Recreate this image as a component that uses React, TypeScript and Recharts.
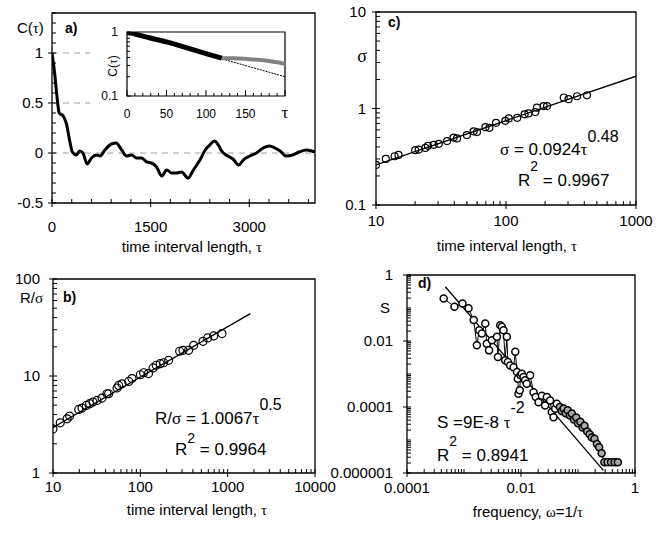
import React from 'react';
import { ScatterChart, Scatter, XAxis, YAxis, ReferenceLine, ReferenceArea } from 'recharts';

const SANS = '"Liberation Sans", Arial, Helvetica, sans-serif';
const SERIF = '"Liberation Serif", "Times New Roman", serif';

// a) autocorrelation C(tau)
const corrTau = [0, 40, 70, 110, 170, 220, 270, 310, 370, 420, 470, 535, 600, 680, 730, 805, 905, 975, 1060, 1135, 1210, 1285, 1365, 1440, 1515, 1590, 1670, 1745, 1820, 1895, 1970, 2070, 2150, 2250, 2330, 2400, 2470, 2530, 2580, 2650, 2750, 2840, 2910, 3010, 3110, 3210, 3310, 3390, 3470, 3560, 3660, 3760, 3870, 3950, 4000];
const corrValue = [1.0, 0.8, 0.6, 0.4, 0.37, 0.29, 0.12, 0.01, -0.02, 0.02, 0.0, -0.11, -0.05, -0.02, -0.03, 0.03, 0.09, 0.1, 0.03, -0.03, -0.02, -0.05, -0.05, -0.09, -0.1, -0.14, -0.23, -0.17, -0.2, -0.2, -0.19, -0.25, -0.17, -0.07, 0.03, 0.08, 0.12, 0.08, 0.02, -0.02, -0.06, -0.12, -0.07, -0.03, 0.0, 0.05, 0.07, 0.05, 0.02, -0.03, -0.02, 0.01, 0.03, 0.02, 0.01];

// a) inset, log C(tau) for short lags
const insetBlackTau = [0, 25, 50, 75, 100, 120];
const insetBlackC = [1.0, 0.83, 0.7, 0.57, 0.46, 0.39];
const insetGrayTau = [120, 135, 155, 175, 200];
const insetGrayC = [0.39, 0.39, 0.375, 0.36, 0.32];
const insetFitTau = [0, 200];
const insetFitC = [1.0, 0.2];

// c) sigma vs tau
const sigmaTau = [10, 11.9, 13.9, 14.9, 20, 21.3, 24, 25.1, 27.8, 30.4, 35.2, 39.5, 42, 50, 56.4, 59.8, 69.4, 74.5, 83.8, 98.8, 105, 122, 139, 149, 168, 173, 195, 207, 278, 303, 352, 420];
const sigmaValue = [0.26, 0.3, 0.32, 0.33, 0.37, 0.375, 0.39, 0.41, 0.42, 0.43, 0.46, 0.5, 0.49, 0.53, 0.58, 0.57, 0.64, 0.63, 0.71, 0.745, 0.79, 0.8, 0.87, 0.89, 0.92, 1.02, 1.06, 1.06, 1.3, 1.25, 1.34, 1.37];
const sigmaFitTau = [10, 1000];
const sigmaFitValue = [0.26, 2.16];

// b) R/sigma vs tau
const rsTau = [10, 12.1, 14.5, 15.5, 19.7, 21.5, 24.1, 26.3, 28.7, 31.9, 36.4, 41.5, 43.4, 54.1, 56.5, 61.7, 73.5, 80.3, 100, 109, 124, 140, 152, 169, 185, 211, 282, 308, 357, 408, 522, 591, 692, 861];
const rsValue = [2.85, 3.29, 3.62, 3.86, 4.52, 4.67, 4.97, 5.18, 5.38, 5.6, 5.92, 6.56, 6.56, 7.52, 8.0, 8.3, 8.8, 9.4, 10.3, 10.8, 10.6, 12.1, 12.9, 13.4, 13.7, 14.5, 18.0, 18.4, 18.4, 20.7, 22.8, 24.7, 25.9, 27.4];
const rsFitTau = [10, 1820];
const rsFitValue = [2.95, 44];

// d) power spectrum
const specFreq = [4.4e-4, 6.8e-4, 9.4e-4, 1.2e-3, 1.48e-3, 1.68e-3, 1.85e-3, 2.06e-3, 2.36e-3, 2.51e-3, 2.75e-3, 3.09e-3, 3.78e-3, 3.94e-3, 4.32e-3, 4.61e-3, 4.93e-3, 5.28e-3, 5.65e-3, 5.89e-3, 6.46e-3, 7.41e-3, 7.94e-3, 8.51e-3, 8.79e-3, 9.04e-3, 9.5e-3, 9.8e-3, 1.035e-2, 1.107e-2, 1.18e-2, 1.26e-2, 1.445e-2, 1.66e-2, 1.82e-2, 2.03e-2, 2.32e-2, 2.65e-2, 2.84e-2, 3.24e-2, 3.47e-2, 3.72e-2, 3.98e-2, 4.25e-2];
const specValue = [0.195, 0.109, 0.138, 0.098, 0.043, 0.0074, 0.021, 0.017, 0.034, 0.0083, 0.0052, 0.0105, 0.0135, 0.0033, 0.03, 0.027, 0.021, 0.0026, 0.0135, 0.0023, 0.0018, 0.0016, 0.0047, 0.00115, 0.00072, 0.00025, 0.00032, 0.00091, 0.00102, 0.00081, 0.00065, 0.00051, 0.00091, 0.00028, 0.0002, 0.00014, 0.00022, 0.000112, 0.0002, 0.000158, 7.1e-5, 4.9e-5, 8.9e-5, 0.000126];
const specHighFreq = [0.048, 0.052, 0.056, 0.061, 0.066, 0.072, 0.078, 0.085, 0.093, 0.1, 0.11, 0.12, 0.13, 0.145, 0.16, 0.175, 0.195, 0.215, 0.235, 0.26, 0.29, 0.33, 0.38, 0.44, 0.5];
const specHighValue = [1.0e-4, 7.5e-5, 9e-5, 6.5e-5, 8e-5, 5.5e-5, 6.3e-5, 4.2e-5, 4.8e-5, 3.2e-5, 3.6e-5, 2.4e-5, 2.7e-5, 1.8e-5, 1.5e-5, 1.2e-5, 1.1e-5, 7.6e-6, 6e-6, 4.0e-6, 2.1e-6, 2.1e-6, 2.1e-6, 2.1e-6, 2.1e-6];
const specFitFreq = [4.7e-4, 0.279];
const specFitValue = [0.44, 1.2e-6];

// tick labels
const aXMajor = [0, 1500, 3000];
const aXLabels = ['0', '1500', '3000'];
const aYMajor = [-0.5, 0, 0.5, 1];
const aYLabels = ['-0.5', '0', '0.5', '1'];
const insetXMajor = [0, 50, 100, 150, 200];
const insetXLabels = ['0', '50', '100', '150', 'τ'];
const insetYMajor = [0.1, 1];
const insetYLabels = ['0.1', '1'];
const cXMajor = [10, 100, 1000];
const cXLabels = ['10', '100', '1000'];
const cYMajor = [0.1, 1, 10];
const cYLabels = ['0.1', '1', '10'];
const bXMajor = [10, 100, 1000, 10000];
const bXLabels = ['10', '100', '1000', '10000'];
const bYMajor = [1, 10, 100];
const bYLabels = ['1', '10', '100'];
const dXMajor = [1e-4, 1e-2, 1];
const dXLabels = ['0.0001', '0.01', '1'];
const dYMajor = [1e-6, 1e-4, 1e-2, 1];
const dYLabels = ['0.000001', '0.0001', '0.01', '1'];

const pts = (xs: number[], ys: number[]) => xs.map((x, i) => ({ x, y: ys[i] }));

const steps = (from: number, to: number, by: number) => {
  const out: number[] = [];
  for (let i = 0; from + i * by <= to + 1e-9; i++) out.push(Math.round((from + i * by) * 1000) / 1000);
  return out;
};

const logTicks = (lo: number, hi: number) => {
  const out: number[] = [];
  for (let e = lo; e < hi; e++) {
    for (let k = 1; k < 10; k++) out.push(Number((k * Math.pow(10, e)).toPrecision(6)));
  }
  out.push(Number(Math.pow(10, hi).toPrecision(6)));
  return out;
};

const same = (a: number, b: number) => Math.abs(a - b) <= Math.max(Math.abs(a), Math.abs(b)) * 1e-6;

interface TickStyle {
  side: 'x' | 'y';
  majors: number[];
  labels: string[];
  minor: number;
  majorIn: number;
  majorOut: number;
  gap: number;
  size: number;
}

const makeTick = (s: TickStyle) => (props: any) => {
  const { x, y, payload } = props;
  const idx = s.majors.findIndex((m) => same(m, payload.value));
  const major = idx >= 0;
  const label = major ? s.labels[idx] : '';
  const greek = /[τσω]/.test(label);
  if (s.side === 'x') {
    return (
      <g>
        <line x1={x} x2={x} y1={y + (major ? s.majorOut : 0)} y2={y - (major ? s.majorIn : s.minor)} stroke="#000" strokeWidth={1} />
        {label && (
          <text x={x} y={y + s.gap} textAnchor="middle" fontSize={greek ? s.size + 5 : s.size} fontFamily={greek ? SERIF : SANS} fill="#000">
            {label}
          </text>
        )}
      </g>
    );
  }
  return (
    <g>
      <line x1={x - (major ? s.majorOut : 0)} x2={x + (major ? s.majorIn : s.minor)} y1={y} y2={y} stroke="#000" strokeWidth={1} />
      {label && (
        <text x={x - s.gap} y={y + s.size * 0.36} textAnchor="end" fontSize={s.size} fontFamily={SANS} fill="#000">
          {label}
        </text>
      )}
    </g>
  );
};

interface Box {
  left: number;
  top: number;
  width: number;
  height: number;
  x0: number;
  y0: number;
  x1: number;
  y1: number;
}

const A: Box = { left: 0, top: 0, width: 335, height: 265, x0: 52, y0: 13, x1: 315, y1: 203 };
const INSET: Box = { left: 90, top: 16, width: 222, height: 110, x0: 127, y0: 32, x1: 285, y1: 96 };
const C: Box = { left: 330, top: 0, width: 341, height: 265, x0: 376, y0: 12, x1: 636, y1: 205 };
const B: Box = { left: 0, top: 265, width: 345, height: 268, x0: 53, y0: 279, x1: 315, y1: 473 };
const D: Box = { left: 295, top: 265, width: 376, height: 268, x0: 407, y0: 275, x1: 635, y1: 473 };

const chartProps = (b: Box) => ({
  width: b.width,
  height: b.height,
  margin: { top: b.y0 - b.top, right: b.left + b.width - b.x1, bottom: 0, left: 0 },
});
const xH = (b: Box) => b.top + b.height - b.y1;
const yW = (b: Box) => b.x0 - b.left;

const axisBase = { tickLine: false, axisLine: false, tickSize: 0, tickMargin: 0, interval: 0 as const, allowDataOverflow: true };

const noDot = () => <g />;
const ring = (r: number, fill: string, sw: number) => (p: any) => (
  <circle cx={p.cx} cy={p.cy} r={r} fill={fill} stroke="#000" strokeWidth={sw} />
);

const place = (b: Box, bg?: string): React.CSSProperties => ({
  position: 'absolute',
  left: b.left,
  top: b.top,
  width: b.width,
  height: b.height,
  background: bg,
});

const PanelA = () => (
  <div style={place(A)}>
    <ScatterChart {...chartProps(A)}>
      <XAxis type="number" dataKey="x" domain={[0, 4000]} ticks={steps(0, 3900, 300)} height={xH(A)} {...axisBase}
        tick={makeTick({ side: 'x', majors: aXMajor, labels: aXLabels, minor: 4, majorIn: 4, majorOut: 4, gap: 29, size: 15 })} />
      <YAxis type="number" dataKey="y" domain={[-0.5, 1.4]} ticks={steps(-0.5, 1.4, 0.1)} width={yW(A)} {...axisBase}
        tick={makeTick({ side: 'y', majors: aYMajor, labels: aYLabels, minor: 4, majorIn: 4, majorOut: 4, gap: 9, size: 15 })} />
      <ReferenceLine y={1} stroke="#a0a0a0" strokeDasharray="6 5" />
      <ReferenceLine y={0.5} stroke="#a0a0a0" strokeDasharray="6 5" />
      <ReferenceLine y={0} stroke="#a0a0a0" strokeDasharray="6 5" />
      <Scatter data={pts(corrTau, corrValue)} shape={noDot} line={{ stroke: '#000', strokeWidth: 3 }} lineJointType="monotoneX" isAnimationActive={false} />
      <ReferenceArea x1={0} x2={4000} y1={-0.5} y2={1.4} fill="none" stroke="#000" strokeWidth={1.3} ifOverflow="visible" />
    </ScatterChart>
  </div>
);

const Inset = () => (
  <div style={place(INSET, '#fff')}>
    <ScatterChart {...chartProps(INSET)}>
      <XAxis type="number" dataKey="x" domain={[0, 200]} ticks={steps(0, 200, 10)} height={xH(INSET)} {...axisBase}
        tick={makeTick({ side: 'x', majors: insetXMajor, labels: insetXLabels, minor: 3, majorIn: 6, majorOut: 0, gap: 22, size: 12 })} />
      <YAxis type="number" dataKey="y" scale="log" domain={[0.1, 1]} ticks={logTicks(-1, 0)} width={yW(INSET)} {...axisBase}
        tick={makeTick({ side: 'y', majors: insetYMajor, labels: insetYLabels, minor: 3, majorIn: 4, majorOut: 0, gap: 9, size: 12 })} />
      <Scatter data={pts(insetFitTau, insetFitC)} shape={noDot} line={{ stroke: '#000', strokeWidth: 1, strokeDasharray: '2 1' }} isAnimationActive={false} />
      <Scatter data={pts(insetGrayTau, insetGrayC)} shape={noDot} line={{ stroke: '#808080', strokeWidth: 4 }} lineJointType="monotoneX" isAnimationActive={false} />
      <Scatter data={pts(insetBlackTau, insetBlackC)} shape={noDot} line={{ stroke: '#000', strokeWidth: 5 }} lineJointType="monotoneX" isAnimationActive={false} />
      <ReferenceArea x1={0} x2={200} y1={0.1} y2={1} fill="none" stroke="#000" strokeWidth={1.2} ifOverflow="visible" />
    </ScatterChart>
  </div>
);

const PanelC = () => (
  <div style={place(C)}>
    <ScatterChart {...chartProps(C)}>
      <XAxis type="number" dataKey="x" scale="log" domain={[10, 1000]} ticks={logTicks(1, 3)} height={xH(C)} {...axisBase}
        tick={makeTick({ side: 'x', majors: cXMajor, labels: cXLabels, minor: 4, majorIn: 4, majorOut: 4, gap: 21, size: 15 })} />
      <YAxis type="number" dataKey="y" scale="log" domain={[0.1, 10]} ticks={logTicks(-1, 1)} width={yW(C)} {...axisBase}
        tick={makeTick({ side: 'y', majors: cYMajor, labels: cYLabels, minor: 4, majorIn: 4, majorOut: 4, gap: 10, size: 15 })} />
      <Scatter data={pts(sigmaFitTau, sigmaFitValue)} shape={noDot} line={{ stroke: '#000', strokeWidth: 1.3 }} isAnimationActive={false} />
      <Scatter data={pts(sigmaTau, sigmaValue)} shape={ring(3.5, 'none', 1.2)} isAnimationActive={false} />
      <ReferenceArea x1={10} x2={1000} y1={0.1} y2={10} fill="none" stroke="#000" strokeWidth={1.3} ifOverflow="visible" />
    </ScatterChart>
  </div>
);

const PanelB = () => (
  <div style={place(B)}>
    <ScatterChart {...chartProps(B)}>
      <XAxis type="number" dataKey="x" scale="log" domain={[10, 10000]} ticks={logTicks(1, 4)} height={xH(B)} {...axisBase}
        tick={makeTick({ side: 'x', majors: bXMajor, labels: bXLabels, minor: 4, majorIn: 4, majorOut: 4, gap: 19, size: 15 })} />
      <YAxis type="number" dataKey="y" scale="log" domain={[1, 100]} ticks={logTicks(0, 2)} width={yW(B)} {...axisBase}
        tick={makeTick({ side: 'y', majors: bYMajor, labels: bYLabels, minor: 4, majorIn: 4, majorOut: 4, gap: 13, size: 15 })} />
      <Scatter data={pts(rsFitTau, rsFitValue)} shape={noDot} line={{ stroke: '#000', strokeWidth: 1.3 }} isAnimationActive={false} />
      <Scatter data={pts(rsTau, rsValue)} shape={ring(4, 'none', 1.2)} isAnimationActive={false} />
      <ReferenceArea x1={10} x2={10000} y1={1} y2={100} fill="none" stroke="#000" strokeWidth={1.3} ifOverflow="visible" />
    </ScatterChart>
  </div>
);

const PanelD = () => (
  <div style={place(D)}>
    <ScatterChart {...chartProps(D)}>
      <XAxis type="number" dataKey="x" scale="log" domain={[1e-4, 1]} ticks={logTicks(-4, 0)} height={xH(D)} {...axisBase}
        tick={makeTick({ side: 'x', majors: dXMajor, labels: dXLabels, minor: 4, majorIn: 4, majorOut: 4, gap: 20, size: 15 })} />
      <YAxis type="number" dataKey="y" scale="log" domain={[1e-6, 1]} ticks={logTicks(-6, 0)} width={yW(D)} {...axisBase}
        tick={makeTick({ side: 'y', majors: dYMajor, labels: dYLabels, minor: 4, majorIn: 4, majorOut: 4, gap: 14, size: 15 })} />
      <Scatter data={pts(specFreq.concat(specHighFreq), specValue.concat(specHighValue))} shape={noDot} line={{ stroke: '#000', strokeWidth: 1 }} isAnimationActive={false} />
      <Scatter data={pts(specFitFreq, specFitValue)} shape={noDot} line={{ stroke: '#000', strokeWidth: 1.3 }} isAnimationActive={false} />
      <Scatter data={pts(specFreq, specValue)} shape={ring(3.5, '#fff', 1.5)} isAnimationActive={false} />
      <Scatter data={pts(specHighFreq, specHighValue)} shape={ring(3.5, '#a8a8a8', 1.5)} isAnimationActive={false} />
      <ReferenceArea x1={1e-4} x2={1} y1={1e-6} y2={1} fill="none" stroke="#000" strokeWidth={1.3} ifOverflow="visible" />
    </ScatterChart>
  </div>
);

const Greek = ({ children }: { children: React.ReactNode }) => <tspan fontFamily={SERIF}>{children}</tspan>;

const Annotations = () => (
  <svg width={671} height={533} style={{ position: 'absolute', left: 0, top: 0, pointerEvents: 'none' }} fontFamily={SANS} fill="#000">
    {/* a */}
    <text x={17} y={33} fontSize={15}>C(<Greek>τ</Greek>)</text>
    <text x={65} y={33} fontSize={14} fontWeight="bold">a)</text>
    <text transform="translate(117,66) rotate(-90)" textAnchor="middle" fontSize={12}>C(<Greek>τ</Greek>)</text>
    <text x={192} y={252} textAnchor="middle" fontSize={15}>time interval length, <Greek>τ</Greek></text>
    {/* c */}
    <text x={362} y={62} textAnchor="middle" fontSize={18} fontFamily={SERIF}>σ</text>
    <text x={388} y={27} fontSize={14} fontWeight="bold">c)</text>
    <text x={500} y={155} fontSize={17}><Greek>σ</Greek> = 0.0924<Greek>τ</Greek><tspan dy={-13} fontSize={16}>0.48</tspan></text>
    <text x={518} y={186} fontSize={17}>R<tspan dy={-15} fontSize={14}>2</tspan><tspan dy={15}> = 0.9967</tspan></text>
    <text x={507} y={251} textAnchor="middle" fontSize={15}>time interval length, <Greek>τ</Greek></text>
    {/* b */}
    <text x={20} y={303} fontSize={15}>R/<Greek>σ</Greek></text>
    <text x={63} y={302} fontSize={14} fontWeight="bold">b)</text>
    <text x={155} y={424} fontSize={17}>R/<Greek>σ</Greek> = 1.0067<Greek>τ</Greek><tspan dy={-14} fontSize={16}>0.5</tspan></text>
    <text x={175} y={455} fontSize={17}>R<tspan dy={-12} fontSize={14}>2</tspan><tspan dy={12}> = 0.9964</tspan></text>
    <text x={197} y={515} textAnchor="middle" fontSize={15}>time interval length, <Greek>τ</Greek></text>
    {/* d */}
    <text x={385} y={313} textAnchor="middle" fontSize={15}>S</text>
    <text x={418} y={288} fontSize={14} fontWeight="bold">d)</text>
    <text x={437} y={428} fontSize={17}>S =9E-8 <Greek>τ</Greek><tspan dy={-15} fontSize={16}>-2</tspan></text>
    <text x={437} y={461} fontSize={17}>R<tspan dy={-15} fontSize={14}>2</tspan><tspan dy={15}> = 0.8941</tspan></text>
    <text x={528} y={517} textAnchor="middle" fontSize={15}>frequency, <Greek>ω</Greek>=1/<Greek>τ</Greek></text>
  </svg>
);

export default function App() {
  return (
    <div style={{ position: 'absolute', left: 0, top: 0, width: 671, height: 533, background: '#fff', fontFamily: SANS }}>
      <PanelA />
      <Inset />
      <PanelC />
      <PanelB />
      <PanelD />
      <Annotations />
    </div>
  );
}
